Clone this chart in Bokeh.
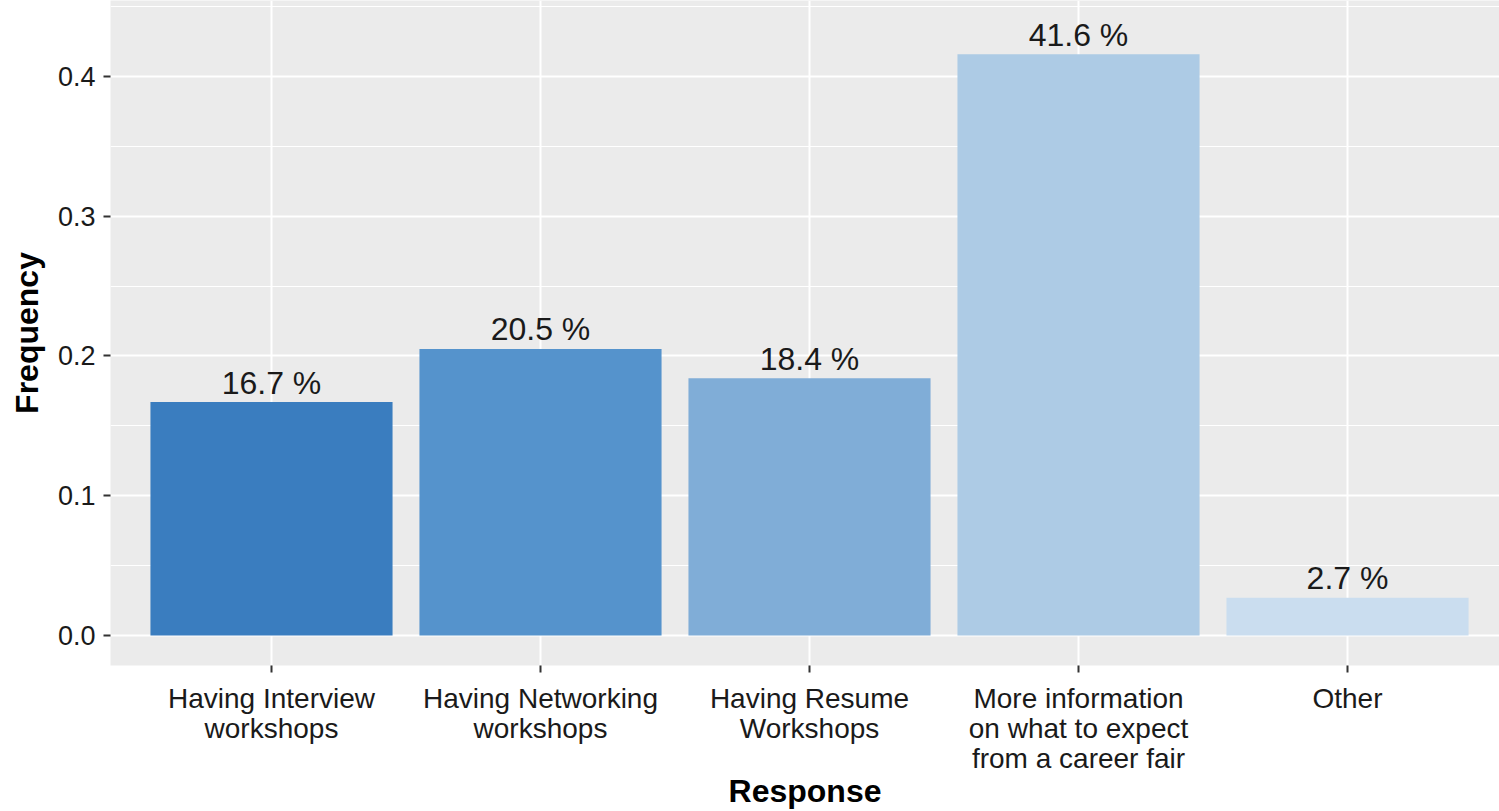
from bokeh.plotting import figure
from bokeh.models import FixedTicker, SingleIntervalTicker, Range1d, ColumnDataSource
from bokeh.embed import file_html
from bokeh.resources import INLINE
from bokeh.core.properties import value

categories = ["Having Interview\nworkshops", "Having Networking\nworkshops", "Having Resume\nWorkshops",
              "More information\non what to expect\nfrom a career fair", "Other"]
frequencies = [0.167, 0.205, 0.184, 0.416, 0.027]
colors = ["#3A7DBF", "#5593CC", "#80ADD7", "#ADCBE5", "#CADDEF"]
y_ticks = [0.0, 0.1, 0.2, 0.3, 0.4]

xs = list(range(1, len(categories) + 1))
labels = [f"{v*100:.1f} %" for v in frequencies]
label_y = [v + 0.014 for v in frequencies]
src = ColumnDataSource(dict(x=xs, top=frequencies, color=colors, label=labels, ly=label_y))

FONT = "Liberation Sans"

p = figure(width=1499, height=811, output_backend="svg", toolbar_location=None,
           x_range=Range1d(0.4015, 5.565), y_range=Range1d(-0.0215, 0.4544),
           min_border_left=110, min_border_right=0, min_border_top=0, min_border_bottom=146)
p.outline_line_color = None
p.background_fill_color = "#EBEBEB"
p.border_fill_color = "white"

p.vbar(x="x", top="top", bottom=0, width=0.9, fill_color="color", line_color=None, source=src)
p.text(x="x", y="ly", text="label", source=src, text_align="center", text_baseline="alphabetic",
       text_font=value(FONT), text_font_size="32px", text_color="#1a1a1a")

p.xaxis.ticker = FixedTicker(ticks=xs)
p.xaxis.major_label_overrides = {x: c for x, c in zip(xs, categories)}
p.yaxis.ticker = SingleIntervalTicker(interval=0.1, num_minor_ticks=2)
p.yaxis.major_label_overrides = {t: f"{t:.1f}" for t in y_ticks}

for ax in (p.xaxis[0], p.yaxis[0]):
    ax.axis_line_color = None
    ax.major_tick_line_color = "#333333"
    ax.major_tick_line_width = 2
    ax.major_tick_out = 7
    ax.major_tick_in = 0
    ax.minor_tick_line_color = None
    ax.major_label_text_font = FONT
    ax.major_label_text_color = "#1a1a1a"
    ax.axis_label_text_font = FONT
    ax.axis_label_text_font_size = "32px"
    ax.axis_label_text_font_style = "bold"
    ax.axis_label_text_color = "black"

p.xaxis.major_label_text_font_size = "28px"
p.xaxis.major_label_text_line_height = 0.97
p.yaxis.major_label_text_font_size = "27px"

p.xaxis.axis_label = "Response"
p.yaxis.axis_label = "Frequency"
p.xaxis.major_label_standoff = 10
p.yaxis.major_label_standoff = 8
p.xaxis.axis_label_standoff = -4
p.yaxis.axis_label_standoff = 10

p.xgrid.grid_line_color = "white"
p.xgrid.grid_line_width = 2
p.ygrid.grid_line_color = "white"
p.ygrid.grid_line_width = 2
p.ygrid.minor_grid_line_color = "white"
p.ygrid.minor_grid_line_width = 1

open("out.html", "w").write(file_html(p, INLINE))
